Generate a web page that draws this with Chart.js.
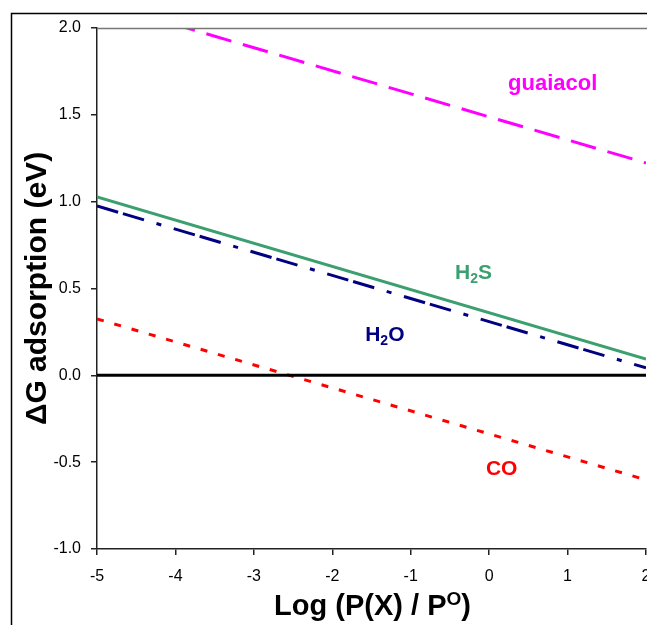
<!DOCTYPE html>
<html>
<head>
<meta charset="utf-8">
<script src="https://cdn.jsdelivr.net/npm/chart.js@4.4.1/dist/chart.umd.min.js"></script>
<style>
  html, body { margin: 0; padding: 0; background: #fff; overflow: hidden; }
  #wrap { position: relative; width: 647px; height: 625px; overflow: hidden; }
  #chart { position: absolute; left: 0; top: 0; }
</style>
</head>
<body>
<div id="wrap"><canvas id="chart" width="700" height="625"></canvas></div>
<script>
// Data (end points of each straight line)
const logPressure = [-5, 2];
const guaiacolValues = [2.152, 1.223];
const h2sValues = [1.027, 0.094];
const h2oValues = [0.975, 0.043];
const coValues = [0.325, -0.602];
const zeroValues = [0, 0];

const FONT = "'Liberation Sans', Arial, sans-serif";

const toPoints = (values) => logPressure.map((x, i) => ({ x, y: values[i] }));

// Text labels next to the lines (data coordinates of the label centre)
const lineLabels = [
  { parts: [{ t: "guaiacol" }], x: 0.81, y: 1.69, color: "#ff00ff", size: 22 },
  { parts: [{ t: "H" }, { t: "2", sub: true }, { t: "S" }], x: -0.2, y: 0.6, color: "#3c9f6f", size: 21 },
  { parts: [{ t: "H" }, { t: "2", sub: true }, { t: "O" }], x: -1.33, y: 0.244, color: "#000080", size: 21 },
  { parts: [{ t: "CO" }], x: 0.16, y: -0.533, color: "#ff0000", size: 21 },
];

// draws text made of normal / sub / superscript pieces, centred on cx
function drawRich(ctx, parts, cx, baseline, size, color) {
  const small = Math.round(size * 0.65);
  const widths = parts.map((p) => {
    ctx.font = `bold ${p.sub || p.sup ? small : size}px ${FONT}`;
    return ctx.measureText(p.t).width;
  });
  const total = widths.reduce((a, b) => a + b, 0);
  let x = cx - total / 2;
  ctx.fillStyle = color;
  ctx.textAlign = "left";
  ctx.textBaseline = "alphabetic";
  parts.forEach((p, i) => {
    ctx.font = `bold ${p.sub || p.sup ? small : size}px ${FONT}`;
    let y = baseline;
    if (p.sub) y += size * 0.22;
    if (p.sup) y -= size * 0.36;
    ctx.fillText(p.t, x, y);
    x += widths[i];
  });
}

const textPlugin = {
  id: "chartText",
  beforeDraw(chart) {
    const ctx = chart.ctx;
    ctx.save();
    // outer figure frame
    ctx.strokeStyle = "#000";
    ctx.lineWidth = 1.5;
    ctx.beginPath();
    ctx.moveTo(11.5, chart.height);
    ctx.lineTo(11.5, 13.5);
    ctx.lineTo(chart.width, 13.5);
    ctx.stroke();
    ctx.restore();
  },
  afterDraw(chart) {
    const ctx = chart.ctx;
    const area = chart.chartArea;
    const xs = chart.scales.x;
    const ys = chart.scales.y;
    ctx.save();

    // plot area top border
    ctx.strokeStyle = "#777";
    ctx.lineWidth = 1.5;
    ctx.beginPath();
    ctx.moveTo(area.left, area.top + 0.5);
    ctx.lineTo(chart.width, area.top + 0.5);
    ctx.stroke();

    // line labels
    lineLabels.forEach((l) => {
      const px = xs.getPixelForValue(l.x);
      const py = ys.getPixelForValue(l.y);
      drawRich(ctx, l.parts, px, py + l.size * 0.36, l.size, l.color);
    });

    // y title
    ctx.save();
    ctx.translate(38, (area.top + area.bottom) / 2);
    ctx.rotate(-Math.PI / 2);
    ctx.font = `bold 30px ${FONT}`;
    ctx.fillStyle = "#000";
    ctx.textAlign = "center";
    ctx.textBaseline = "middle";
    ctx.fillText("ΔG adsorption (eV)", 0, 0);
    ctx.restore();

    // x title
    drawRich(
      ctx,
      [{ t: "Log (P(X) / P" }, { t: "O", sup: true }, { t: ")" }],
      (area.left + area.right) / 2 + 1,
      615,
      29,
      "#000"
    );

    ctx.restore();
  },
};

const axisGrid = { drawOnChartArea: false, drawTicks: true, tickLength: 6, color: "#222", lineWidth: 1.5 };
const axisBorder = { color: "#222", width: 1.5 };
const tickFont = { family: FONT, size: 16 };

new Chart(document.getElementById("chart"), {
  type: "line",
  data: {
    datasets: [
      { label: "zero", data: toPoints(zeroValues), borderColor: "#000", borderWidth: 3 },
      { label: "guaiacol", data: toPoints(guaiacolValues), borderColor: "#ff00ff", borderWidth: 3, borderDash: [26, 12] },
      { label: "H2S", data: toPoints(h2sValues), borderColor: "#3c9f6f", borderWidth: 3 },
      { label: "H2O", data: toPoints(h2oValues), borderColor: "#000080", borderWidth: 3, borderDash: [22, 5, 22, 13, 5, 13] },
      { label: "CO", data: toPoints(coValues), borderColor: "#ff0000", borderWidth: 3, borderDash: [7, 11] },
    ],
  },
  options: {
    responsive: false,
    animation: false,
    devicePixelRatio: 1,
    layout: { padding: { top: 28, right: 54, left: 0, bottom: 0 } },
    elements: { point: { radius: 0 }, line: { tension: 0, borderCapStyle: "butt" } },
    plugins: { legend: { display: false }, tooltip: { enabled: false } },
    scales: {
      x: {
        type: "linear",
        min: -5,
        max: 2,
        afterFit(scale) { scale.height = 76; },
        grid: axisGrid,
        border: axisBorder,
        ticks: { stepSize: 1, padding: 12, color: "#000", font: tickFont },
      },
      y: {
        type: "linear",
        min: -1,
        max: 2,
        afterFit(scale) { scale.width = 97; },
        grid: axisGrid,
        border: axisBorder,
        ticks: { stepSize: 0.5, padding: 10, color: "#000", font: tickFont, callback: (v) => v.toFixed(1) },
      },
    },
  },
  plugins: [textPlugin],
});
</script>
</body>
</html>
